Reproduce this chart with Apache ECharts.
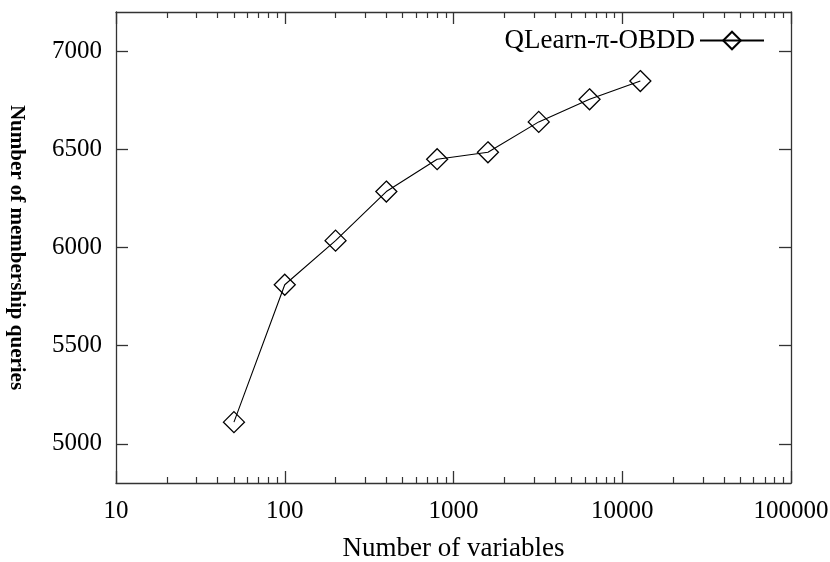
<!DOCTYPE html>
<html>
<head>
<meta charset="utf-8">
<script src="https://cdn.jsdelivr.net/npm/echarts@6/dist/echarts.min.js"></script>
<style>html,body{margin:0;padding:0;background:#fff;}#c{width:830px;height:562px;}</style>
</head>
<body>
<div id="c"></div>
<script>
const xValues = [50, 100, 200, 400, 800, 1600, 3200, 6400, 12800];
const yValues = [5110, 5810, 6035, 6285, 6450, 6485, 6640, 6755, 6848];
const seriesName = 'QLearn-\u03c0-OBDD';
const yTicks = [5000, 5500, 6000, 6500, 7000];
const xMinorTicks = [20,30,40,50,60,70,80,90,200,300,400,500,600,700,800,900,2000,3000,4000,5000,6000,7000,8000,9000,20000,30000,40000,50000,60000,70000,80000,90000];

const FONT = 'Liberation Serif';
const AX = '#333';
const chart = echarts.init(document.getElementById('c'), null, {renderer: 'canvas'});
const baseX = {type: 'log', logBase: 10, min: 10, max: 100000, splitLine: {show: false}};
const option = {
  backgroundColor: '#fff',
  animation: false,
  grid: {left: 116, right: 39, top: 12, bottom: 79, containLabel: false, outerBoundsMode: 'none'},
  legend: {
    data: [seriesName], right: 60, top: 22, align: 'right', itemWidth: 64, itemHeight: 22,
    textStyle: {fontFamily: FONT, fontSize: 27, color: '#000'}, itemGap: 10
  },
  xAxis: [
    Object.assign({}, baseX, {
      position: 'bottom', name: 'Number of variables', nameLocation: 'middle', nameGap: 52,
      nameTextStyle: {fontFamily: FONT, fontSize: 27, color: '#000'},
      axisLine: {lineStyle: {color: AX, width: 1.3}},
      axisTick: {inside: true, length: 12, lineStyle: {color: AX, width: 1.3}},
      axisLabel: {margin: 16, fontFamily: FONT, fontSize: 25, color: '#000', formatter: v => String(Math.round(v))}
    }),
    Object.assign({}, baseX, {
      position: 'bottom',
      axisLine: {show: false},
      axisTick: {inside: true, length: 6, customValues: xMinorTicks, lineStyle: {color: AX, width: 1.2}},
      axisLabel: {show: false}
    }),
    Object.assign({}, baseX, {
      position: 'top',
      axisLine: {lineStyle: {color: AX, width: 1.3}},
      axisTick: {inside: true, length: 12, lineStyle: {color: AX, width: 1.3}},
      axisLabel: {show: false}
    }),
    Object.assign({}, baseX, {
      position: 'top',
      axisLine: {show: false},
      axisTick: {inside: true, length: 6, customValues: xMinorTicks, lineStyle: {color: AX, width: 1.2}},
      axisLabel: {show: false}
    })
  ],
  yAxis: [
    {
      type: 'value', min: 4800, max: 7200, position: 'left',
      name: 'Number of membership queries', nameLocation: 'middle', nameGap: 89, nameRotate: -90,
      nameTextStyle: {fontFamily: FONT, fontSize: 21, fontWeight: 'bold', color: '#000'},
      splitLine: {show: false},
      axisLine: {show: true, lineStyle: {color: AX, width: 1.3}},
      axisTick: {inside: true, length: 12, customValues: yTicks, lineStyle: {color: AX, width: 1.3}},
      axisLabel: {margin: 14, fontFamily: FONT, fontSize: 25, color: '#000', customValues: yTicks, formatter: v => String(Math.round(v))}
    },
    {
      type: 'value', min: 4800, max: 7200, position: 'right',
      splitLine: {show: false},
      axisLine: {show: true, lineStyle: {color: AX, width: 1.3}},
      axisTick: {inside: true, length: 12, customValues: yTicks, lineStyle: {color: AX, width: 1.3}},
      axisLabel: {show: false}
    }
  ],
  series: [{
    name: seriesName, type: 'line', xAxisIndex: 0, yAxisIndex: 0,
    data: xValues.map((x, i) => [x, yValues[i]]),
    symbol: 'diamond', symbolSize: 21, showSymbol: true,
    lineStyle: {color: '#000', width: 1.1},
    itemStyle: {color: 'rgba(0,0,0,0)', borderColor: '#000', borderWidth: 1.3},
    emphasis: {disabled: true}
  }]
};
chart.setOption(option);
</script>
</body>
</html>
